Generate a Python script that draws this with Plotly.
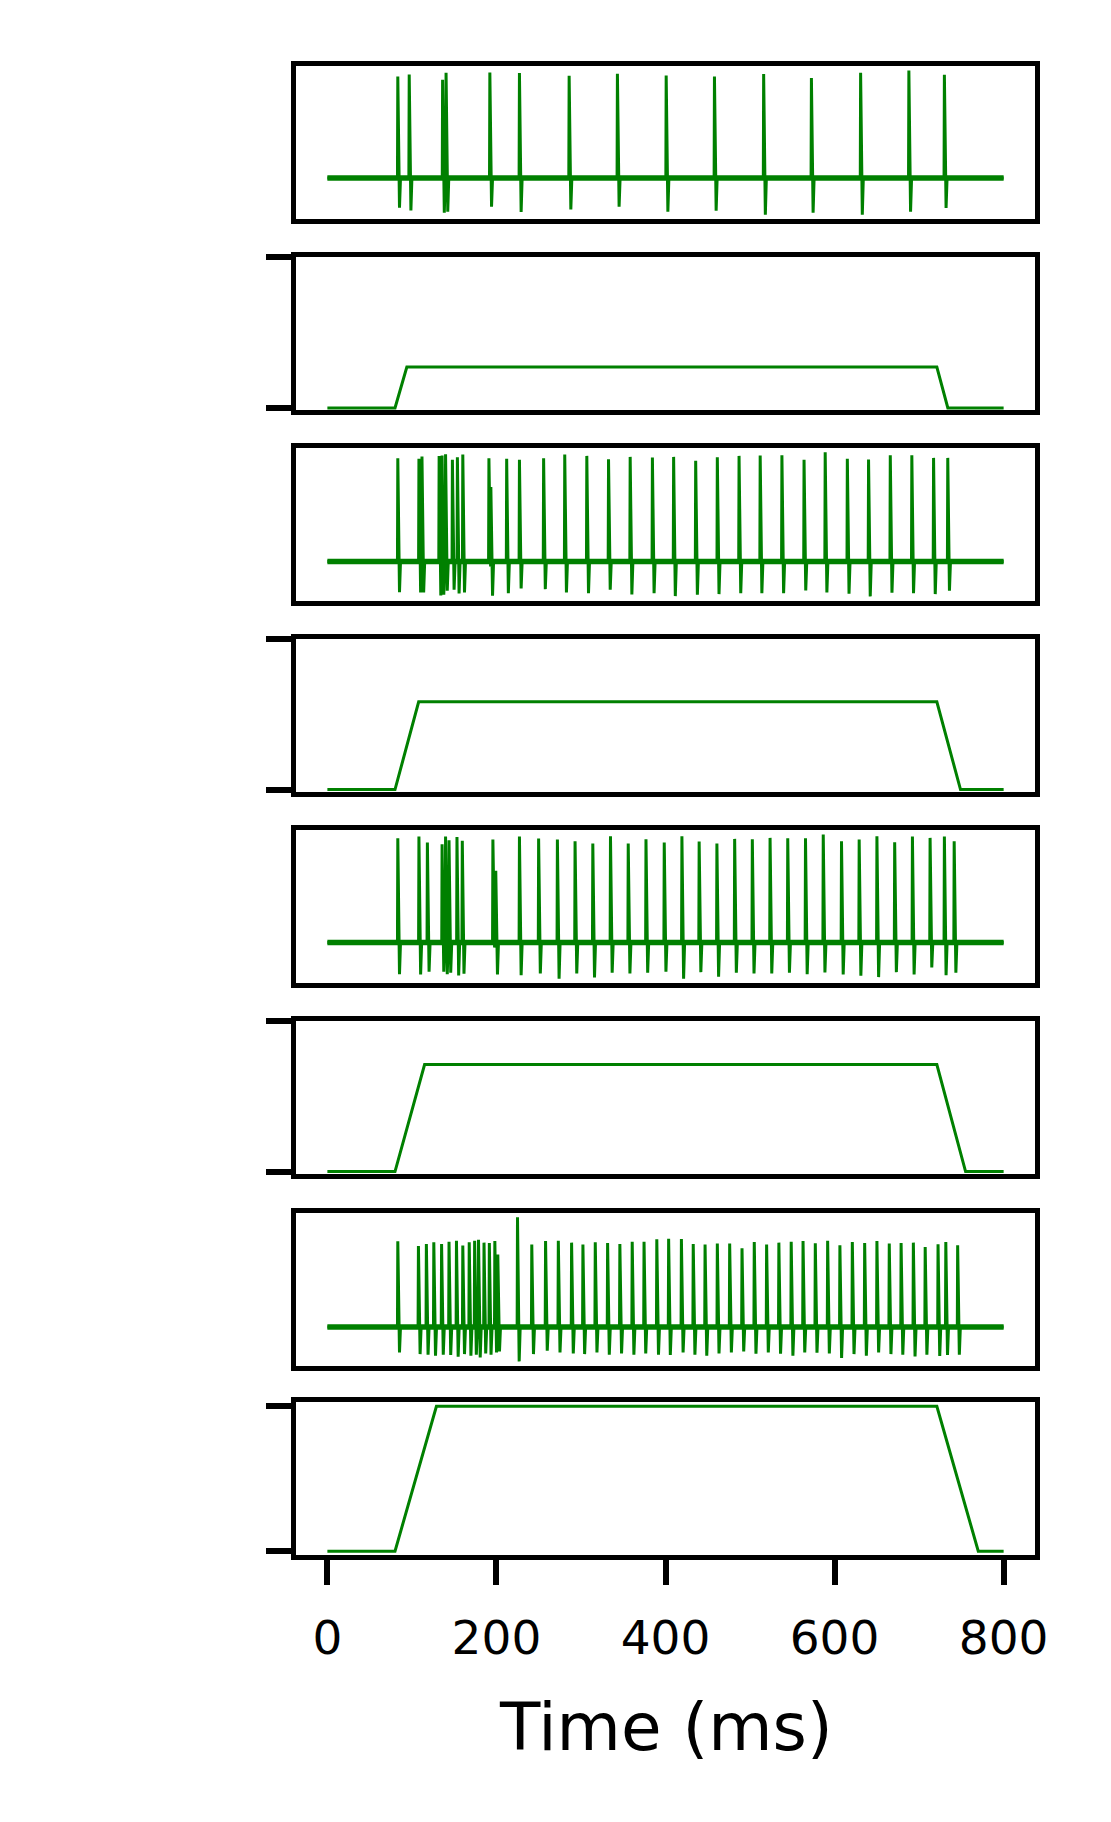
import plotly.graph_objects as go

# ---------------- data ----------------
T_END = 800.0  # ms

# Voltage traces: spike times (ms), peak and trough (mV relative to rest)
spk1_t = [83.3, 96.8, 136.3, 140.4, 192.2, 227.2, 286.0, 343.1, 400.8, 457.9,
          516.1, 572.6, 630.8, 687.9, 729.9]
spk1_pk = [102.3, 104.3, 99, 106, 106.3, 105.7, 103, 105, 103.3, 102.3,
           104.7, 100.7, 106, 108.3, 104]
spk1_tr = [-30, -32.7, -35, -34, -29, -34.3, -31.7, -29, -34, -33,
           -37, -35, -37, -34, -30.3]

spk3_t = [83.3, 108.3, 111.9, 132.2, 135.7, 139.8, 147.9, 153.8, 160.2, 191.1,
          193.4, 212.1, 227.2, 255.8, 280.8, 306.9, 332.6, 358.2, 384.5, 409.6,
          435.7, 461.3, 487.0, 512.0, 537.7, 563.9, 588.9, 615.1, 640.2, 665.9,
          691.4, 717.1, 733.9]
spk3_pk = [104, 103.3, 105.7, 106.3, 106.7, 108, 102.3, 105, 107.7, 104,
           75, 103.3, 102.3, 104, 107.7, 106.3, 103, 105.3, 104.7, 105.3,
           101.3, 105, 106.3, 106.7, 107, 102.3, 110, 103.3, 102.7, 107,
           107, 104.3, 104.3]
spk3_tr = [-30.7, -31, -31, -34, -33.3, -29.3, -28.3, -32, -31, -5,
           -34.3, -31.7, -27, -27.7, -31, -31.7, -28.3, -33, -31.7, -34.7,
           -33.3, -32.7, -31.7, -31.7, -31.7, -29, -31, -32.3, -35, -31.3,
           -31.7, -32.7, -29.3]

spk5_t = [83.3, 108.3, 118.3, 135.7, 139.8, 143.9, 153.3, 159.6, 195.8, 199.2,
          227.2, 249.9, 272.1, 293.0, 314.0, 334.9, 355.9, 376.9, 398.5, 419.4,
          439.8, 460.8, 481.8, 502.7, 523.7, 544.6, 565.6, 586.6, 608.2, 629.1,
          650.1, 671.1, 692.1, 713.0, 729.9, 741.5]
spk5_pk = [105, 106.7, 100.7, 99, 106.7, 103, 106.3, 102.3, 103.7, 72.3,
           106.7, 104.7, 103.7, 102, 99.7, 107, 99.7, 104, 100.7, 107,
           101.7, 99.7, 104.3, 104, 105.3, 105, 105, 108.7, 102, 103.7,
           107, 101, 106.7, 105.3, 106.7, 102]
spk5_tr = [-31.7, -32, -29.3, -29.3, -31.7, -30.3, -33, -31.3, -5, -32,
           -32.7, -31, -36.3, -31, -35, -30.3, -31, -30.3, -29.3, -36.3,
           -29.7, -34.3, -30.3, -31, -31, -30.3, -31.7, -30, -32, -33.3,
           -34.7, -29.7, -32, -25, -32.7, -30.3]

spk7_t = [83.3, 107.7, 117.1, 125.9, 135.1, 143.9, 152.7, 160.2, 167.8, 174.2,
          178.8, 185.3, 191.6, 198.1, 201.6, 224.9, 241.8, 258.1, 273.2, 288.9,
          302.3, 316.9, 331.5, 346.0, 360.6, 374.6, 389.7, 403.7, 418.8, 432.8,
          446.8, 461.3, 475.9, 490.5, 505.0, 519.6, 534.1, 548.7, 562.7, 577.2,
          591.8, 606.3, 621.0, 635.6, 650.1, 664.7, 678.7, 693.2, 707.2, 722.4,
          731.6, 745.6]
spk7_pk = [86.7, 82, 84, 85.7, 84, 86.3, 87.3, 82.3, 85.7, 87.3,
           88.3, 85.3, 85, 87, 73.3, 111, 83.3, 87, 87.3, 85.3,
           83.3, 85.7, 85, 84, 86.3, 86.3, 88.7, 89.3, 89, 84,
           83.3, 84.3, 84.3, 79.7, 86, 83.3, 85.3, 86.3, 87, 84.7,
           87.3, 82.7, 86, 85, 87, 84.3, 85, 85.3, 81, 83.7,
           86, 82.7]
spk7_tr = [-25.7, -27.3, -28, -29, -28, -28.3, -30, -27.3, -29, -28,
           -30.7, -26.7, -28, -25.7, -24.7, -34.7, -27.3, -24, -25.7, -26.7,
           -27.3, -25.7, -28, -26.7, -28, -26.7, -28, -28.3, -25.7, -28,
           -29, -26.7, -25.7, -24.7, -27, -25.7, -27, -29, -25.7, -26,
           -26.7, -31.3, -27.3, -29, -25.7, -27.3, -28, -29.7, -28, -29.3,
           -28.3, -28]

# Ramp current stimuli (a.u.): onset, end of rise, start of fall, end of fall
ramp_amp = [41, 88, 107.3, 144.7]
ramp_on = [80, 80, 80, 80]
ramp_top = [94, 108, 115, 129]
ramp_off = [721, 721, 721, 721]
ramp_end = [734, 749, 755, 770]
ramp_ylim = [[-5, 154], [-5, 154], [-5, 154], [-6.7, 151.7]]
ramp_ticks = [[0, 154], [0, 154], [0, 154], [0, 144.7]]

x_ticks = [0, 200, 400, 600, 800]
x_label = "Time (ms)"

# ---------------- layout constants ----------------
W, H = 1111, 1822
W_EFF = 1097            # effective horizontal extent of the rendered page
LW = 5
GREEN = "#008000"
X_LEFT, X_RIGHT = 293.3, 1036.5          # spine centres (px)
TOPS = [63.3, 254.3, 445.0, 636.0, 827.3, 1018.0, 1210.0, 1399.3]
PANEL_H = 158.6
XLIM = [-0.05 * T_END, 1.05 * T_END]
FONT = "DejaVu Sans"


def inner(lim, span_px):
    u = (lim[1] - lim[0]) / span_px
    return [lim[0] + u * LW / 2, lim[1] - u * LW / 2]


def spike_xy(ts, pks, trs):
    x, y = [0.0], [0.0]
    for t, p, r in zip(ts, pks, trs):
        x += [t - 0.4, t, t + 2.0, t + 3.2]
        y += [0, p, r, 0]
    x.append(T_END)
    y.append(0)
    return x, y


def ramp_xy(i):
    a = ramp_amp[i]
    return ([0, ramp_on[i], ramp_top[i], ramp_off[i], ramp_end[i], T_END],
            [0, 0, a, a, 0, 0])


fig = go.Figure()
layout = dict(width=W, height=H, autosize=False,
              margin=dict(l=0, r=0, t=0, b=0, pad=0),
              paper_bgcolor="white", plot_bgcolor="white", showlegend=False,
              font=dict(family=FONT, color="black"))

volt = [(spk1_t, spk1_pk, spk1_tr), (spk3_t, spk3_pk, spk3_tr),
        (spk5_t, spk5_pk, spk5_tr), (spk7_t, spk7_pk, spk7_tr)]

xin = inner(XLIM, X_RIGHT - X_LEFT)
for k in range(8):
    n = k + 1
    xa = "x" if n == 1 else f"x{n}"
    ya = "y" if n == 1 else f"y{n}"
    top = TOPS[k]
    bot = top + PANEL_H
    ydom = [1 - (bot - LW / 2) / H, 1 - (top + LW / 2) / H]
    xdom = [(X_LEFT + LW / 2) / W_EFF, (X_RIGHT - LW / 2) / W_EFF]

    if k % 2 == 0:
        ts, pks, trs = volt[k // 2]
        # baseline (noise band)
        fig.add_trace(go.Scatter(x=[0, T_END], y=[0, 0], mode="lines",
                                 line=dict(color=GREEN, width=5.5),
                                 xaxis=xa, yaxis=ya, hoverinfo="skip"))
        sx, sy = spike_xy(ts, pks, trs)
        fig.add_trace(go.Scatter(x=sx, y=sy, mode="lines",
                                 line=dict(color=GREEN, width=3.0),
                                 xaxis=xa, yaxis=ya))
        lo, hi = min(trs), max(pks)
        pad = 0.05 * (hi - lo)
        ylim = inner([lo - pad, hi + pad], PANEL_H)
        yax = dict(domain=ydom, range=ylim, showticklabels=False, ticks="",
                   showgrid=False, zeroline=False, showline=True, mirror=True,
                   linecolor="black", linewidth=LW, anchor=xa)
    else:
        i = k // 2
        rx, ry = ramp_xy(i)
        fig.add_trace(go.Scatter(x=rx, y=ry, mode="lines",
                                 line=dict(color=GREEN, width=3.0),
                                 xaxis=xa, yaxis=ya))
        ylim = inner(ramp_ylim[i], PANEL_H)
        tv = [min(v, ylim[1] - 1e-6) for v in ramp_ticks[i]]
        yax = dict(domain=ydom, range=ylim, showticklabels=False,
                   ticks="outside", ticklen=25, tickwidth=5.5, tickcolor="black",
                   tickvals=tv, showgrid=False, zeroline=False, showline=True,
                   mirror=True, linecolor="black", linewidth=LW, anchor=xa)

    xax = dict(domain=xdom, range=xin, showgrid=False, zeroline=False,
               showline=True, mirror=True, linecolor="black", linewidth=LW,
               anchor=ya)
    if n == 8:
        xax.update(ticks="outside", ticklen=25, tickwidth=5.5, tickcolor="black",
                   tickvals=x_ticks, ticktext=[str(v) for v in x_ticks],
                   tickfont=dict(family=FONT, size=47, color="black"),
                   ticklabelstandoff=12)
    else:
        xax.update(showticklabels=False, ticks="")
    layout["xaxis" if n == 1 else f"xaxis{n}"] = xax
    layout["yaxis" if n == 1 else f"yaxis{n}"] = yax

layout["annotations"] = [dict(text=x_label, x=(X_LEFT + X_RIGHT) / 2 / W_EFF,
                              y=1 - 1727 / H, xref="paper", yref="paper",
                              xanchor="center", yanchor="middle",
                              showarrow=False,
                              font=dict(family=FONT, size=66, color="black"))]

fig.update_layout(**layout)
fig.write_html("out.html", config={"responsive": False})
